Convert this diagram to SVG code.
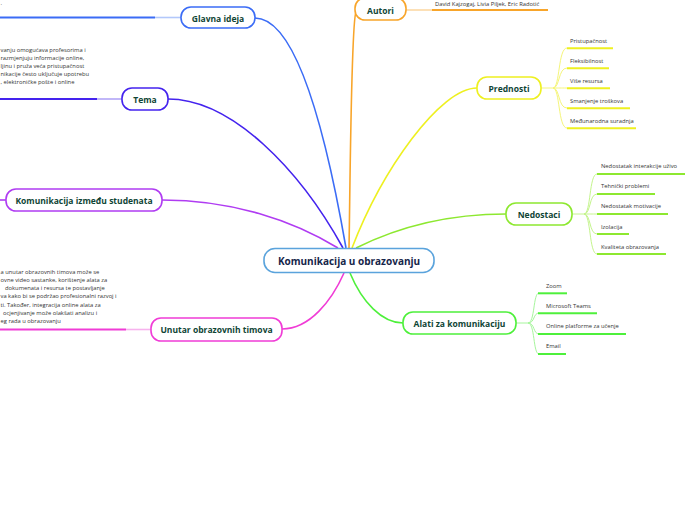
<svg xmlns="http://www.w3.org/2000/svg" width="696" height="520" viewBox="0 0 696 520">
<style>
.bg{fill:#ffffff}
.node{fill:#ffffff;stroke-width:1.6}
.lbl{font-family:"Open Sans","Noto Sans","Liberation Sans",sans-serif;font-weight:bold;font-size:8.5px;fill:#0f4535;text-anchor:middle;dominant-baseline:central}
.clbl{font-family:"Open Sans","Noto Sans","Liberation Sans",sans-serif;font-weight:bold;font-size:10px;fill:#16264a;text-anchor:middle;dominant-baseline:central}
.sm{font-family:"Open Sans","Noto Sans","Liberation Sans",sans-serif;font-size:5.8px;fill:#333333}
.con{fill:none;stroke-width:1.6}
.thin{fill:none;stroke-width:1}
.ul{fill:none;stroke-width:2}
</style>
<rect class="bg" width="696" height="520"/>
<g id="connectors">
  <path class="con" stroke="#3b6cf6" d="M255,18 C292,18 322,110 346,248"/>
  <path class="con" stroke="#4423ee" d="M168,99 C232,99 300,170 343,248"/>
  <path class="con" stroke="#b03cf2" d="M162,200 C232,200 292,220 338,248"/>
  <path class="con" stroke="#f03cd6" d="M282,329 C310,329 332,300 344,273"/>
  <path class="con" stroke="#f8a52a" d="M356,12 C351,22 350,200 349,248"/>
  <path class="con" stroke="#eef020" d="M477,88 C440,88 382,170 352,248"/>
  <path class="con" stroke="#8de830" d="M506,214 C452,214 402,225 356,248"/>
  <path class="con" stroke="#4ef03b" d="M350,273 C362,302 382,323 403,323"/>
  <path class="con" stroke="#b3c8fb" d="M155,17.5 L181,17.5"/>
  <path class="ul" stroke="#3b6cf6" d="M0,17.5 L155,17.5"/>
  <path class="con" stroke="#b2a6f7" d="M97,99 L122,99"/>
  <path class="ul" stroke="#4423ee" d="M0,99 L97,99"/>
  <path class="con" stroke="#b03cf2" d="M0,200 L6,200"/>
  <path class="con" stroke="#f7b3ee" d="M126,329.5 L151,329.5"/>
  <path class="ul" stroke="#f03cd6" d="M0,329.5 L126,329.5"/>
  <path class="con" stroke="#fcd9a6" d="M406,10 L432,10"/>
  <path class="ul" stroke="#f8a52a" d="M432,10 L548,10"/>
  <g stroke="#f5f57a">
    <path class="thin" d="M541,88 L553,88 C560,88 558,48 567,48"/>
    <path class="thin" d="M553,88 C560,88 558,68 567,68"/>
    <path class="thin" d="M553,88 C560,88 560,88 567,88"/>
    <path class="thin" d="M553,88 C560,88 558,108 567,108"/>
    <path class="thin" d="M553,88 C560,88 558,128 567,128"/>
  </g>
  <g stroke="#eef020">
    <path class="ul" d="M567,48.3 L613,48.3"/>
    <path class="ul" d="M567,68.3 L609,68.3"/>
    <path class="ul" d="M567,88.3 L610,88.3"/>
    <path class="ul" d="M567,108.3 L630,108.3"/>
    <path class="ul" d="M567,128.3 L636,128.3"/>
  </g>
  <g stroke="#c4f48c">
    <path class="thin" d="M572,214 L584,214 C591,214 589,174 597,174"/>
    <path class="thin" d="M584,214 C591,214 589,194 597,194"/>
    <path class="thin" d="M584,214 C591,214 591,214 597,214"/>
    <path class="thin" d="M584,214 C591,214 589,234 597,234"/>
    <path class="thin" d="M584,214 C591,214 589,254 597,254"/>
  </g>
  <g stroke="#8de830">
    <path class="ul" d="M597,174 L685,174"/>
    <path class="ul" d="M597,194 L655,194"/>
    <path class="ul" d="M597,214 L668,214"/>
    <path class="ul" d="M597,234 L629,234"/>
    <path class="ul" d="M597,254 L666,254"/>
  </g>
  <g stroke="#a6f59c">
    <path class="thin" d="M516,323 L528,323 C535,323 533,293 539,293"/>
    <path class="thin" d="M528,323 C535,323 533,313 539,313"/>
    <path class="thin" d="M528,323 C535,323 533,334 539,334"/>
    <path class="thin" d="M528,323 C535,323 533,354 539,354"/>
  </g>
  <g stroke="#4ef03b">
    <path class="ul" d="M538,293.3 L567,293.3"/>
    <path class="ul" d="M538,313.3 L597,313.3"/>
    <path class="ul" d="M538,334 L626,334"/>
    <path class="ul" d="M538,354 L566,354"/>
  </g>
</g>
<g id="center">
  <rect class="node" x="264" y="248.5" width="170" height="24" rx="11" stroke="#5aa3dc"/>
  <text class="clbl" x="349" y="261">Komunikacija u obrazovanju</text>
</g>
<g id="glavna-ideja">
  <rect class="node" x="181" y="7" width="74" height="21" rx="10" stroke="#3b6cf6"/>
  <text class="lbl" x="218" y="18">Glavna ideja</text>
  <text class="sm" x="0.5" y="5">.</text>
</g>
<g id="tema">
  <rect class="node" x="122" y="88" width="46" height="22" rx="10" stroke="#4423ee"/>
  <text class="lbl" x="145" y="99">Tema</text>
  <text class="sm" x="0.5" y="51.5">vanju omogućava profesorima i</text>
  <text class="sm" x="0.5" y="59.5">razmjenjuju informacije online,</text>
  <text class="sm" x="0.5" y="67.5">ljinu i pruža veća pristupačnost</text>
  <text class="sm" x="0.5" y="75.5">nikacije često uključuje upotrebu</text>
  <text class="sm" x="0.5" y="83.5">, elektroničke pošte i online</text>
</g>
<g id="komunikacija-studenata">
  <rect class="node" x="6" y="189" width="156" height="22" rx="10" stroke="#b03cf2"/>
  <text class="lbl" x="84" y="200">Komunikacija između studenata</text>
</g>
<g id="unutar-timova">
  <rect class="node" x="151" y="318" width="131" height="23" rx="10" stroke="#f03cd6"/>
  <text class="lbl" x="216.5" y="329.5">Unutar obrazovnih timova</text>
  <text class="sm" x="0.5" y="273.5">a unutar obrazovnih timova može se</text>
  <text class="sm" x="0.5" y="281.8">ovne video sastanke, korištenje alata za</text>
  <text class="sm" x="5" y="290">dokumenata i resursa te postavljanje</text>
  <text class="sm" x="0.5" y="298.3">va kako bi se podržao profesionalni razvoj i</text>
  <text class="sm" x="0.5" y="306.5">ti. Također, integracija online alata za</text>
  <text class="sm" x="3" y="314.8">ocjenjivanje može olakšati analizu i</text>
  <text class="sm" x="0.5" y="323">eg rada u obrazovanju</text>
</g>
<g id="autori">
  <rect class="node" x="355" y="-2" width="51" height="22" rx="10" stroke="#f8a52a"/>
  <text class="lbl" x="380.5" y="10">Autori</text>
  <text class="sm" x="435" y="5.5">David Kajzogaj, Livia Piljek, Eric Radotić</text>
</g>
<g id="prednosti">
  <rect class="node" x="477" y="77" width="64" height="22" rx="10" stroke="#eef020"/>
  <text class="lbl" x="509" y="88">Prednosti</text>
  <text class="sm" x="570" y="42.7">Pristupačnost</text>
  <text class="sm" x="570" y="62.7">Fleksibilnost</text>
  <text class="sm" x="570" y="83">Više resursa</text>
  <text class="sm" x="570" y="102.7">Smanjenje troškova</text>
  <text class="sm" x="570" y="123">Međunarodna suradnja</text>
</g>
<g id="nedostaci">
  <rect class="node" x="506" y="203" width="66" height="22" rx="10" stroke="#8de830"/>
  <text class="lbl" x="539" y="214">Nedostaci</text>
  <text class="sm" x="601" y="168">Nedostatak interakcije uživo</text>
  <text class="sm" x="601" y="188">Tehnički problemi</text>
  <text class="sm" x="601" y="208">Nedostatak motivacije</text>
  <text class="sm" x="601" y="228.7">Izolacija</text>
  <text class="sm" x="601" y="248.7">Kvaliteta obrazovanja</text>
</g>
<g id="alati">
  <rect class="node" x="403" y="312" width="113" height="22" rx="10" stroke="#4ef03b"/>
  <text class="lbl" x="459.5" y="323">Alati za komunikaciju</text>
  <text class="sm" x="546" y="287.7">Zoom</text>
  <text class="sm" x="546" y="307.7">Microsoft Teams</text>
  <text class="sm" x="546" y="328">Online platforme za učenje</text>
  <text class="sm" x="546" y="348">Email</text>
</g>
</svg>
